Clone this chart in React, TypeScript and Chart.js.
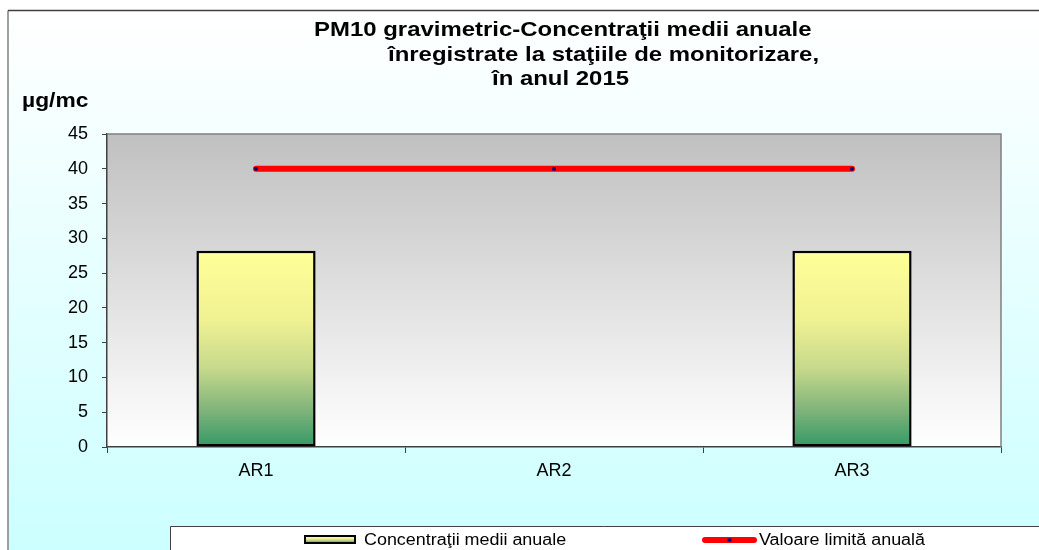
import React, { useEffect, useRef } from "react";
import { Chart, registerables } from "chart.js";

Chart.register(...registerables);

const CATEGORIES = ["AR1", "AR2", "AR3"];
const ANNUAL_MEANS: (number | null)[] = [28.2, null, 28.2];
const LIMIT_VALUES = [40, 40, 40];
const SERIES_LABELS = ["Concentraţii medii anuale", "Valoare limită anuală"];
const TITLE_LINES = [
  "PM10 gravimetric-Concentraţii medii anuale",
  "înregistrate la staţiile de monitorizare,",
  "în anul 2015",
];
const Y_UNIT = "µg/mc";
const Y_MIN = 0;
const Y_MAX = 45;
const Y_STEP = 5;

const FONT = '"Liberation Sans", Arial, sans-serif';

function barGradient(c: CanvasRenderingContext2D, top: number, bottom: number) {
  const g = c.createLinearGradient(0, top, 0, bottom);
  g.addColorStop(0, "#ffff99");
  g.addColorStop(0.35, "#f0f192");
  g.addColorStop(0.6, "#c6d98c");
  g.addColorStop(0.82, "#7db27a");
  g.addColorStop(1, "#339966");
  return g;
}

function stretchText(c: CanvasRenderingContext2D, text: string, x: number, y: number, sx: number) {
  c.save();
  c.translate(x, y);
  c.scale(sx, 1);
  c.fillText(text, 0, 0);
  c.restore();
}

const decorPlugin = {
  id: "decor",
  beforeDraw(chart: any) {
    const c: CanvasRenderingContext2D = chart.ctx;
    const W = chart.width;
    const H = chart.height;
    const ca = chart.chartArea;
    c.save();
    c.fillStyle = "#ffffff";
    c.fillRect(0, 0, W, H);
    const fg = c.createLinearGradient(0, 10, 0, H);
    fg.addColorStop(0, "#ffffff");
    fg.addColorStop(1, "#ccffff");
    c.fillStyle = fg;
    c.fillRect(8, 10, W - 8, H - 10);
    c.strokeStyle = "#808080";
    c.lineWidth = 1.5;
    c.beginPath();
    c.moveTo(8, H);
    c.lineTo(8, 10.5);
    c.stroke();
    c.strokeStyle = "#404040";
    c.beginPath();
    c.moveTo(8, 10.5);
    c.lineTo(W, 10.5);
    c.stroke();
    const pg = c.createLinearGradient(0, ca.top, 0, ca.bottom);
    pg.addColorStop(0, "#c0c0c0");
    pg.addColorStop(1, "#ffffff");
    c.fillStyle = pg;
    c.fillRect(ca.left, ca.top, ca.right - ca.left, ca.bottom - ca.top);
    c.restore();
  },
  afterDraw(chart: any) {
    const c: CanvasRenderingContext2D = chart.ctx;
    const ca = chart.chartArea;
    const W = chart.width;
    const H = chart.height;
    c.save();
    c.strokeStyle = "#808080";
    c.lineWidth = 1.5;
    c.beginPath();
    c.moveTo(ca.left, ca.top);
    c.lineTo(ca.right, ca.top);
    c.lineTo(ca.right, ca.bottom);
    c.stroke();

    c.fillStyle = "#000";
    c.textBaseline = "alphabetic";
    c.textAlign = "left";
    c.font = `bold 21px ${FONT}`;
    const tx = [314, 388, 492];
    const ty = [36, 61, 85];
    TITLE_LINES.forEach((t, i) => stretchText(c, t, tx[i], ty[i], 1.14));

    c.font = `bold 20px ${FONT}`;
    stretchText(c, Y_UNIT, 22, 107, 1.14);

    // legend box
    c.fillStyle = "#ffffff";
    c.fillRect(170, 526, W - 170, H - 526);
    c.strokeStyle = "#404040";
    c.lineWidth = 1;
    c.beginPath();
    c.moveTo(170.5, H);
    c.lineTo(170.5, 526.5);
    c.lineTo(W, 526.5);
    c.stroke();

    const ds = chart.data.datasets;
    const barDs = ds.find((d: any) => d.type === "bar");
    const lineDs = ds.find((d: any) => d.type === "line");

    c.fillStyle = barGradient(c, 536, 543);
    c.fillRect(305, 536, 50, 7);
    c.strokeStyle = "#000";
    c.lineWidth = 2;
    c.strokeRect(305, 536, 50, 7);
    c.fillStyle = "#000";
    c.font = `16px ${FONT}`;
    stretchText(c, barDs.label, 364, 545, 1.12);

    c.strokeStyle = "#ff0000";
    c.lineWidth = 6;
    c.lineCap = "round";
    c.beginPath();
    c.moveTo(705, 540);
    c.lineTo(754, 540);
    c.stroke();
    c.fillStyle = "#000080";
    c.fillRect(727.5, 538.5, 4, 3);
    c.fillStyle = "#000";
    stretchText(c, lineDs.label, 759, 545, 1.12);
    c.restore();
  },
};

export default function App() {
  const ref = useRef<HTMLCanvasElement | null>(null);

  useEffect(() => {
    if (!ref.current) return;
    const chart = new Chart(ref.current, {
      type: "bar",
      data: {
        labels: CATEGORIES,
        datasets: [
          {
            type: "line" as const,
            label: SERIES_LABELS[1],
            data: LIMIT_VALUES,
            borderColor: "#ff0000",
            borderWidth: 6,
            borderCapStyle: "round",
            pointStyle: "rect",
            pointRadius: 2.5,
            pointBackgroundColor: "#000080",
            pointBorderWidth: 0,
            fill: false,
            tension: 0,
            order: 0,
          } as any,
          {
            type: "bar" as const,
            label: SERIES_LABELS[0],
            data: ANNUAL_MEANS,
            backgroundColor: (ctx: any) => {
              const ch = ctx.chart;
              if (!ch.chartArea) return "#ffff99";
              const v = ctx.raw;
              if (v == null) return "#ffff99";
              const ys = ch.scales.y;
              return barGradient(ch.ctx, ys.getPixelForValue(v), ys.getPixelForValue(0));
            },
            borderColor: "#000000",
            borderWidth: 2.5,
            borderSkipped: false,
            barPercentage: 0.4,
            categoryPercentage: 1,
            order: 1,
          } as any,
        ],
      },
      options: {
        responsive: false,
        animation: false,
        events: [],
        layout: { padding: { left: 0, top: 134, right: 38, bottom: 0 } },
        plugins: {
          legend: { display: false },
          title: { display: false },
          tooltip: { enabled: false },
        },
        scales: {
          x: {
            afterFit: (s: any) => {
              s.height = 103;
            },
            grid: {
              offset: true,
              drawOnChartArea: false,
              drawTicks: true,
              tickLength: 6,
              color: "#404040",
            },
            border: { display: true, color: "#404040", width: 1.5 },
            ticks: {
              color: "#000",
              font: { family: FONT, size: 18 },
              padding: 7,
            },
          },
          y: {
            min: Y_MIN,
            max: Y_MAX,
            afterFit: (s: any) => {
              s.width = 107;
            },
            grid: {
              drawOnChartArea: false,
              drawTicks: true,
              tickLength: 5,
              color: "#404040",
            },
            border: { display: true, color: "#404040", width: 1.5 },
            ticks: {
              stepSize: Y_STEP,
              color: "#000",
              font: { family: FONT, size: 18 },
              padding: 14,
            },
          },
        },
      },
      plugins: [decorPlugin],
    });
    return () => chart.destroy();
  }, []);

  return (
    <div style={{ position: "fixed", left: 0, top: 0, width: 1039, height: 550, overflow: "hidden" }}>
      <canvas ref={ref} width={1039} height={550} style={{ display: "block" }} />
    </div>
  );
}
